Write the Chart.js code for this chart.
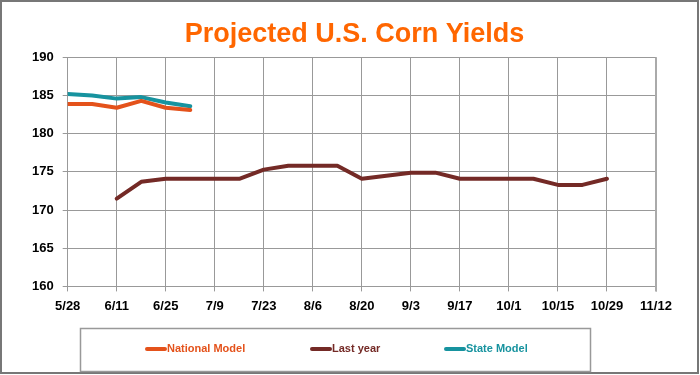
<!DOCTYPE html>
<html>
<head>
<meta charset="utf-8">
<script src="https://cdn.jsdelivr.net/npm/chart.js@4.4.1/dist/chart.umd.min.js"></script>
<style>
  body { margin: 0; background: #fff; }
  #wrap { width: 700px; height: 375px; position: relative; }
</style>
</head>
<body>
<div id="wrap"><canvas id="myChart" width="700" height="375"></canvas></div>
<script>
// x tick labels, one every 14 days from 5/28
var tickLabels = ['5/28','6/11','6/25','7/9','7/23','8/6','8/20','9/3','9/17','10/1','10/15','10/29','11/12'];

// days since 5/28 (weekly)
var nationalDays = [0, 7, 14, 21, 28, 35];
var nationalVals = [183.9, 183.9, 183.4, 184.3, 183.4, 183.1];

var stateDays = [0, 7, 14, 21, 28, 35];
var stateVals = [185.2, 185.0, 184.6, 184.8, 184.1, 183.6];

var lastYearDays = [14, 21, 28, 35, 42, 49, 56, 63, 70, 77, 84, 91, 98, 105, 112, 119, 126, 133, 140, 147, 154];
var lastYearVals = [171.5, 173.7, 174.1, 174.1, 174.1, 174.1, 175.3, 175.8, 175.8, 175.8, 174.1, 174.5, 174.9, 174.9, 174.1, 174.1, 174.1, 174.1, 173.3, 173.3, 174.1];

var seriesNames = ['National Model', 'Last year', 'State Model'];
var seriesColors = ['#e4521b', '#742a26', '#17939f'];

function pts(days, vals) {
  var out = [];
  for (var i in days) {
    out.push({x: days[i], y: vals[i]});
  }
  return out;
}

// marco exterior, borde derecho del grafico y leyenda en caja
var framePlugin = {
  id: 'frame',
  afterLayout: function(chart) {
    // titulo un poco a la derecha como en el original
    if (chart.titleBlock) {
      chart.titleBlock.left += 15;
      chart.titleBlock.right += 15;
    }
  },
  afterDraw: function(chart) {
    var ctx = chart.ctx;
    ctx.save();
    ctx.strokeStyle = '#777';
    ctx.lineWidth = 2;
    ctx.strokeRect(1, 1, 697, 372);

    var a = chart.chartArea;
    ctx.strokeStyle = '#aaa';
    ctx.lineWidth = 2;
    ctx.beginPath();
    ctx.moveTo(a.right, a.top);
    ctx.lineTo(a.right, a.bottom + 5);
    ctx.stroke();

    // leyenda
    ctx.strokeStyle = '#999';
    ctx.lineWidth = 1.5;
    ctx.strokeRect(80.5, 328.5, 510, 43);
    var starts = [145, 310, 444];
    var ly = 349;
    ctx.font = 'bold 11px "Liberation Sans"';
    ctx.textBaseline = 'middle';
    ctx.textAlign = 'left';
    for (var i = 0; i < seriesNames.length; i++) {
      ctx.strokeStyle = seriesColors[i];
      ctx.lineWidth = 4;
      ctx.lineCap = 'round';
      ctx.beginPath();
      ctx.moveTo(starts[i] + 2, ly);
      ctx.lineTo(starts[i] + 20, ly);
      ctx.stroke();
      ctx.fillStyle = seriesColors[i];
      ctx.fillText(seriesNames[i], starts[i] + 22, ly);
    }
    ctx.restore();
  }
};

new Chart(document.getElementById('myChart'), {
  type: 'line',
  data: {
    datasets: [
      {label: seriesNames[0], data: pts(nationalDays, nationalVals), borderColor: seriesColors[0], backgroundColor: seriesColors[0]},
      {label: seriesNames[1], data: pts(lastYearDays, lastYearVals), borderColor: seriesColors[1], backgroundColor: seriesColors[1]},
      {label: seriesNames[2], data: pts(stateDays, stateVals), borderColor: seriesColors[2], backgroundColor: seriesColors[2]}
    ]
  },
  options: {
    responsive: false,
    animation: false,
    elements: {
      line: {borderWidth: 4, tension: 0, borderCapStyle: 'round', borderJoinStyle: 'round'},
      point: {radius: 0}
    },
    layout: {padding: {left: 23, right: 44, top: 6, bottom: 54}},
    scales: {
      x: {
        type: 'linear',
        min: 0, max: 168,
        ticks: {
          stepSize: 14,
          color: '#000',
          font: {family: 'Liberation Sans', size: 13, weight: 'bold'},
          maxRotation: 0,
          padding: 7,
          callback: function(v) { return tickLabels[v / 14]; }
        },
        grid: {color: '#999', lineWidth: 1, tickLength: 5, tickColor: '#999'},
        border: {color: '#999', width: 1}
      },
      y: {
        min: 160, max: 190,
        ticks: {
          stepSize: 5,
          color: '#000',
          font: {family: 'Liberation Sans', size: 13, weight: 'bold'},
          padding: 9
        },
        grid: {color: '#999', lineWidth: 1, tickLength: 5, tickColor: '#999'},
        border: {color: '#999', width: 1}
      }
    },
    plugins: {
      title: {
        display: true,
        text: 'Projected U.S. Corn Yields',
        color: '#ff6600',
        font: {family: 'Liberation Sans', size: 27, weight: 'bold'},
        padding: {top: 12, bottom: 7}
      },
      legend: {display: false},
      tooltip: {enabled: false}
    }
  },
  plugins: [framePlugin]
});
</script>
</body>
</html>
